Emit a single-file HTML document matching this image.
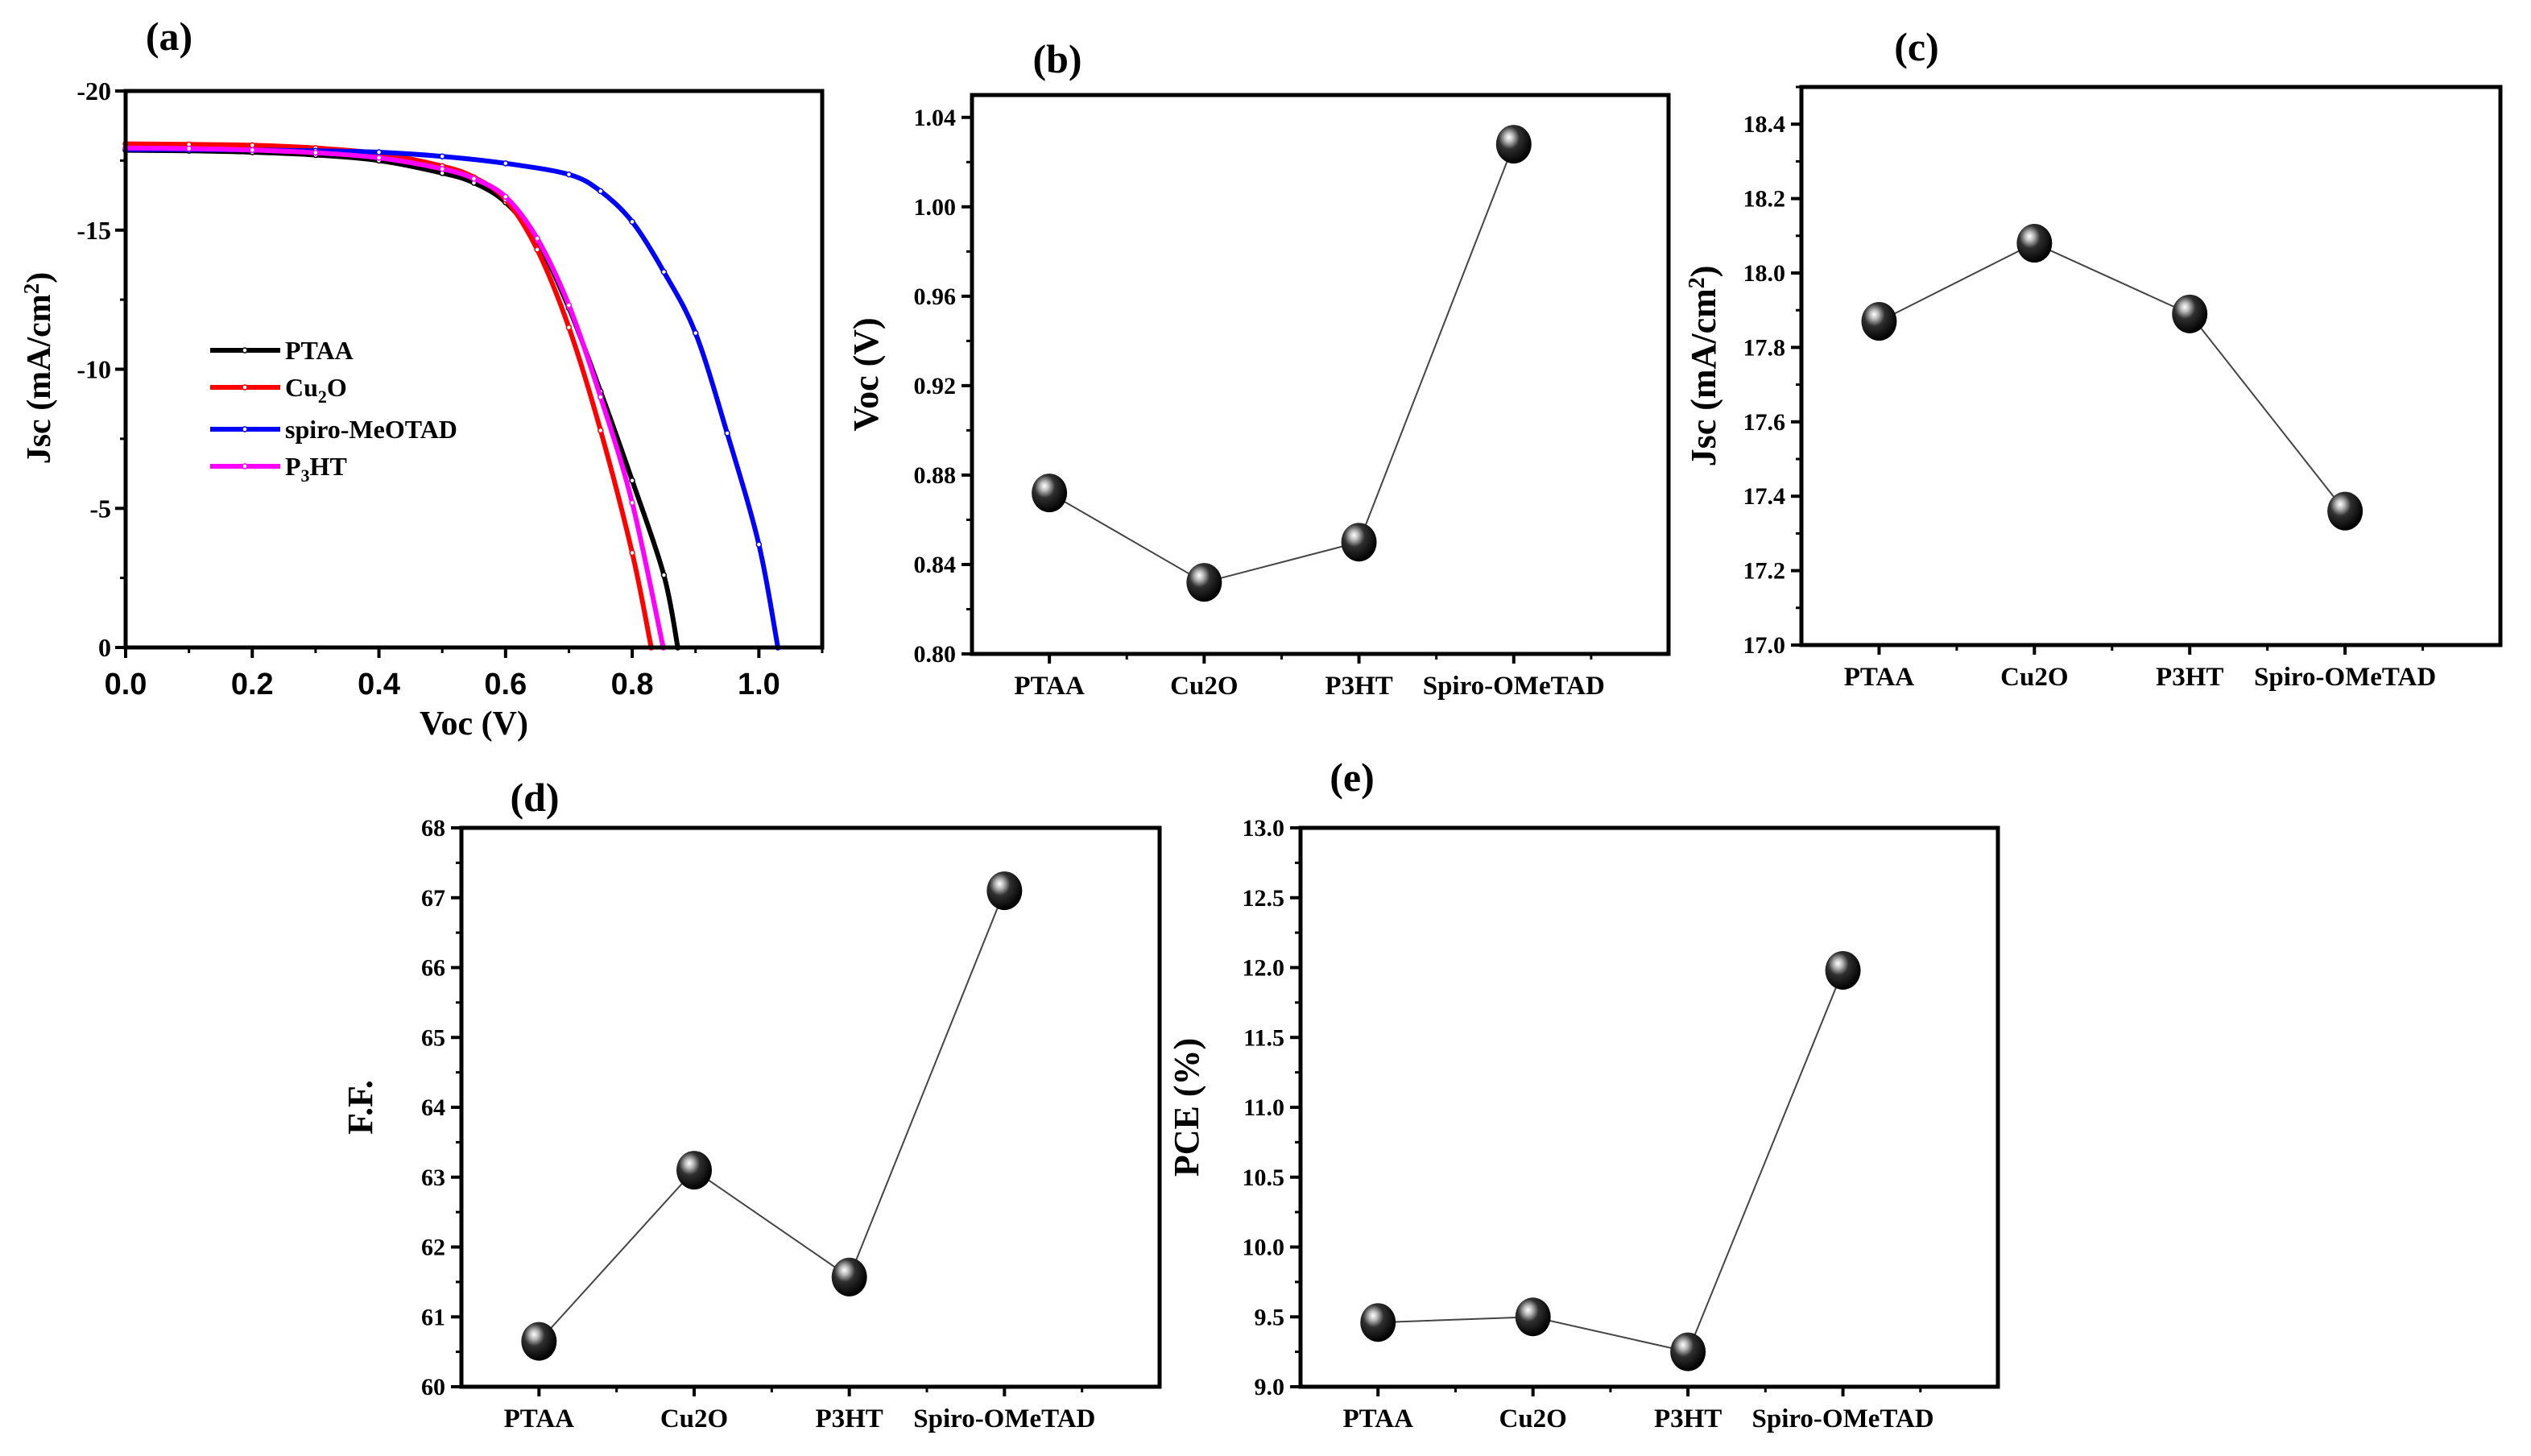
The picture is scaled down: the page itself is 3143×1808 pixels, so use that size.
<!DOCTYPE html>
<html><head><meta charset="utf-8"><style>
html,body{margin:0;padding:0;background:#fff;}
svg{display:block;font-family:"Liberation Serif",serif;font-weight:bold;}
</style></head><body>
<svg id="fig" width="3143" height="1808" viewBox="0 0 3143 1808" xmlns="http://www.w3.org/2000/svg">
<defs>
<radialGradient id="ball" cx="0.38" cy="0.35" r="0.65" fx="0.36" fy="0.32">
<stop offset="0" stop-color="#ffffff"/><stop offset="0.18" stop-color="#bdbdbd"/><stop offset="0.45" stop-color="#303030"/><stop offset="1" stop-color="#000"/>
</radialGradient>
</defs>
</svg>
<script>
// ---- Panel (a) data ----
const ptaaV=[0,0.1,0.2,0.3,0.4,0.5,0.55,0.6,0.65,0.7,0.75,0.8,0.85,0.872];
const ptaaJ=[-17.87,-17.85,-17.8,-17.7,-17.5,-17.05,-16.7,-16.0,-14.6,-12.2,-9.2,-6.0,-2.6,0];
const cu2oV=[0,0.1,0.2,0.3,0.4,0.5,0.55,0.6,0.65,0.7,0.75,0.8,0.83];
const cu2oJ=[-18.1,-18.08,-18.05,-17.95,-17.75,-17.3,-16.9,-16.1,-14.3,-11.5,-7.8,-3.4,0];
const spiroV=[0,0.1,0.2,0.3,0.4,0.5,0.6,0.7,0.75,0.8,0.85,0.9,0.95,1.0,1.03];
const spiroJ=[-17.9,-17.9,-17.88,-17.85,-17.8,-17.65,-17.4,-17.0,-16.4,-15.3,-13.5,-11.3,-7.7,-3.7,0];
const p3htV=[0,0.1,0.2,0.3,0.4,0.5,0.55,0.6,0.65,0.7,0.75,0.8,0.849];
const p3htJ=[-17.95,-17.93,-17.88,-17.78,-17.6,-17.2,-16.85,-16.2,-14.7,-12.3,-9.0,-5.2,0];
const aXTicks=["0.0","0.2","0.4","0.6","0.8","1.0"];
const aYTicks=["-20","-15","-10","-5","0"];
// ---- Category panels data ----
const categories=["PTAA","Cu2O","P3HT","Spiro-OMeTAD"];
const vocValues=[0.872,0.832,0.850,1.028];
const vocTicks=["0.80","0.84","0.88","0.92","0.96","1.00","1.04"];
const jscValues=[17.87,18.08,17.89,17.36];
const jscTicks=["17.0","17.2","17.4","17.6","17.8","18.0","18.2","18.4"];
const ffValues=[60.65,63.1,61.57,67.1];
const ffTicks=["60","61","62","63","64","65","66","67","68"];
const pceValues=[9.46,9.50,9.25,11.98];
const pceTicks=["9.0","9.5","10.0","10.5","11.0","11.5","12.0","12.5","13.0"];

const NS="http://www.w3.org/2000/svg";
const svg=document.getElementById('fig');
function el(tag,attrs,parent){const e=document.createElementNS(NS,tag);for(const k in attrs)e.setAttribute(k,attrs[k]);(parent||svg).appendChild(e);return e;}
function txt(s,attrs,parent){const t=el('text',attrs,parent);t.textContent=s;return t;}
function smooth(pts){
 let d='M'+pts[0][0].toFixed(1)+' '+pts[0][1].toFixed(1);
 for(let i=0;i<pts.length-1;i++){
  const p0=pts[Math.max(0,i-1)],p1=pts[i],p2=pts[i+1],p3=pts[Math.min(pts.length-1,i+2)];
  const c1=[p1[0]+(p2[0]-p0[0])/6,p1[1]+(p2[1]-p0[1])/6],c2=[p2[0]-(p3[0]-p1[0])/6,p2[1]-(p3[1]-p1[1])/6];
  d+=' C'+c1[0].toFixed(1)+' '+c1[1].toFixed(1)+' '+c2[0].toFixed(1)+' '+c2[1].toFixed(1)+' '+p2[0].toFixed(1)+' '+p2[1].toFixed(1);
 }
 return d;
}

// ---- Panel (a) ----
(function(){
 const L=156,R=1021,T=113,B=804,x0=0,x1=1.1,y0=-20,y1=0;
 const sx=v=>L+(v-x0)/(x1-x0)*(R-L), sy=v=>T+(v-y0)/(y1-y0)*(B-T);
 const g=el('g',{});
 
 
 const series=[[ptaaV,ptaaJ,'#000','ptaa'],[cu2oV,cu2oJ,'#ff0000','cu2o'],[spiroV,spiroJ,'#0000ff','spiro-meotad'],[p3htV,p3htJ,'#ff00ff','p3ht']];
 series.forEach(s=>{
  const pts=s[0].map((v,i)=>[sx(v),sy(s[1][i])]);
  const p=el('path',{d:smooth(pts),fill:'none',stroke:s[2],'stroke-width':6,'stroke-linejoin':'round'},g);
  
  
  s[0].forEach((v,i)=>{const c=el('circle',{cx:sx(v),cy:sy(s[1][i]),r:3,fill:'#fff',stroke:s[2],'stroke-width':1.5},g);
   
   });
 });
 el('rect',{x:L,y:T,width:R-L,height:B-T,fill:'none',stroke:'#000','stroke-width':5},g);
 aXTicks.forEach(t=>{const v=parseFloat(t),x=sx(v);
  el('line',{x1:x,y1:B,x2:x,y2:B+13,stroke:'#000','stroke-width':4},g);
  const tl=txt(t,{x:x,y:B+58,'text-anchor':'middle','font-size':38,'font-family':'Liberation Sans, sans-serif'},g);
  
  });
 for(let v=0.1;v<1.1;v+=0.2){el('line',{x1:sx(v),y1:B,x2:sx(v),y2:B+7,stroke:'#000','stroke-width':3},g);}
 aYTicks.forEach(t=>{const v=parseFloat(t),y=sy(v);
  el('line',{x1:L-13,y1:y,x2:L,y2:y,stroke:'#000','stroke-width':4},g);
  const tl=txt(t,{x:L-18,y:y+11,'text-anchor':'end','font-size':32},g);
  
  });
 for(let v=-17.5;v<0;v+=5){el('line',{x1:L-7,y1:sy(v),x2:L,y2:sy(v),stroke:'#000','stroke-width':3},g);}
 const xt=txt('Voc (V)',{x:(L+R)/2,y:912,'text-anchor':'middle','font-size':42},g);
 
 
 const yt=el('text',{x:0,y:0,transform:'translate(62,457) rotate(-90)','text-anchor':'middle','font-size':42},g);
 yt.innerHTML='Jsc (mA/cm<tspan dy="-14" font-size="27">2</tspan><tspan dy="14">)</tspan>';
 
 
 const pl=txt('(a)',{x:210,y:62,'text-anchor':'middle','font-size':50},g);
 
 
 const leg=[['PTAA','#000',435],['Cu\u2082O','#ff0000',481],['spiro-MeOTAD','#0000ff',533],['P\u2083HT','#ff00ff',579]];
 leg.forEach((l,i)=>{
  const lg=el('g',{},g);
  
  
  el('line',{x1:261,y1:l[2],x2:348,y2:l[2],stroke:l[1],'stroke-width':6},lg);
  el('circle',{cx:304,cy:l[2],r:3,fill:'#fff',stroke:l[1],'stroke-width':1.5},lg);
  if(i===1){const t=el('text',{x:354,y:l[2]+11,'font-size':32},lg);t.innerHTML='Cu<tspan dy="8" font-size="22">2</tspan><tspan dy="-8">O</tspan>';}
  else if(i===3){const t=el('text',{x:354,y:l[2]+11,'font-size':32},lg);t.innerHTML='P<tspan dy="8" font-size="22">3</tspan><tspan dy="-8">HT</tspan>';}
  else txt(l[0],{x:354,y:l[2]+11,'font-size':32},lg);
 });
})();

// ---- Category panels ----
function catPanel(name,L,R,T,B,y0,y1,ticks,values,title,titleX,label,labelX,labelY,superscript){
 const sx=v=>L+(v-0.5)/4.5*(R-L), sy=v=>B-(v-y0)/(y1-y0)*(B-T);
 const g=el('g',{});
 
 
 el('rect',{x:L,y:T,width:R-L,height:B-T,fill:'none',stroke:'#000','stroke-width':5},g);
 categories.forEach((c,i)=>{const x=sx(i+1);
  el('line',{x1:x,y1:B,x2:x,y2:B+12,stroke:'#000','stroke-width':4},g);
  const t=txt(c,{x:x,y:B+50,'text-anchor':'middle','font-size':33},g);
  
  });
 for(let k=1.5;k<5;k+=1){el('line',{x1:sx(k),y1:B,x2:sx(k),y2:B+7,stroke:'#000','stroke-width':3},g);}
 const step=parseFloat(ticks[1])-parseFloat(ticks[0]);
 ticks.forEach(t=>{const v=parseFloat(t),y=sy(v);
  el('line',{x1:L-13,y1:y,x2:L,y2:y,stroke:'#000','stroke-width':4},g);
  const tl=txt(t,{x:L-20,y:y+10,'text-anchor':'end','font-size':30},g);
  
  });
 for(let v=parseFloat(ticks[0])+step/2;v<y1;v+=step){el('line',{x1:L-7,y1:sy(v),x2:L,y2:sy(v),stroke:'#000','stroke-width':3},g);}
 const d=values.map((v,i)=>(i?'L':'M')+sx(i+1).toFixed(1)+' '+sy(v).toFixed(1)).join(' ');
 const p=el('path',{d:d,fill:'none',stroke:'#444','stroke-width':2},g);
 
 
 values.forEach((v,i)=>{
  const c=el('ellipse',{cx:sx(i+1),cy:sy(v),rx:22,ry:24,fill:'url(#ball)'},g);
  
  });
 const yt=el('text',{transform:'translate('+titleX+','+((T+B)/2)+') rotate(-90)','text-anchor':'middle','font-size':44},g);
 if(superscript) yt.innerHTML=title+'<tspan dy="-14" font-size="28">2</tspan><tspan dy="14">)</tspan>'; else yt.textContent=title;
 
 
 const pl=txt(label,{x:labelX,y:labelY,'text-anchor':'middle','font-size':50},g);
 
 
}
catPanel('b-voc',1207,2072,118,812,0.80,1.05,vocTicks,vocValues,'Voc (V)',1090,'(b)',1313,90,false);
catPanel('c-jsc',2237,3105,108,801,17.0,18.5,jscTicks,jscValues,'Jsc (mA/cm',2130,'(c)',2380,75,true);
catPanel('d-ff',573,1440,1028,1722,60,68,ffTicks,ffValues,'F.F.',462,'(d)',664,1007,false);
catPanel('e-pce',1615,2481,1028,1722,9.0,13.0,pceTicks,pceValues,'PCE (%)',1488,'(e)',1679,982,false);
</script>
</body></html>
